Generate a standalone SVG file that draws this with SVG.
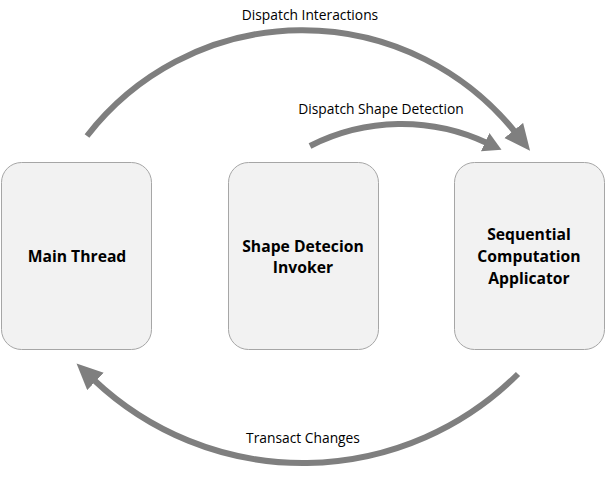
<svg xmlns="http://www.w3.org/2000/svg" width="606" height="496" viewBox="0 0 606 496">
<style>
.node rect{fill:#f2f2f2;stroke:#a6a6a6;stroke-width:1}
.node text{font-family:"Open Sans","Noto Sans",sans-serif;font-weight:bold;font-size:15.7px;fill:#000;text-anchor:middle}
.conn path{fill:none;stroke:#7f7f7f;stroke-width:6}
.lbl{font-family:"Open Sans","Noto Sans",sans-serif;font-size:13.8px;fill:#000;text-anchor:middle}
</style>
<defs>
<marker id="ahL" markerUnits="userSpaceOnUse" markerWidth="28" markerHeight="26" refX="2" refY="12" orient="auto"><path d="M0,0 L26,12 L0,24 Z" fill="#7f7f7f"/></marker>
<marker id="ahS" markerUnits="userSpaceOnUse" markerWidth="20" markerHeight="22" refX="2" refY="10" orient="auto"><path d="M0,0 L18,10 L0,20 Z" fill="#7f7f7f"/></marker>
</defs>
<g id="main-thread" class="node"><rect x="1.5" y="162.5" width="150" height="187" rx="20"/><text x="77" y="262">Main Thread</text></g>
<g id="shape-detection-invoker" class="node"><rect x="228.5" y="162.5" width="150" height="187" rx="20"/><text x="303" y="252">Shape Detecion</text><text x="303" y="273">Invoker</text></g>
<g id="sequential-computation-applicator" class="node"><rect x="454.5" y="162.5" width="150" height="187" rx="20"/><text x="529" y="240">Sequential</text><text x="529" y="262">Computation</text><text x="529" y="284">Applicator</text></g>
<g id="connectors" class="conn">
<path d="M87,136 A272.6,272.6 0 0 1 515,132" marker-end="url(#ahL)"/>
<path d="M310,146 A201.7,201.7 0 0 1 487,143" marker-end="url(#ahS)"/>
<path d="M518,374 A304.3,304.3 0 0 1 94,380" marker-end="url(#ahL)"/>
</g>
<g id="labels">
<text class="lbl" x="310" y="20">Dispatch Interactions</text>
<text class="lbl" x="381" y="114">Dispatch Shape Detection</text>
<text class="lbl" x="303" y="443">Transact Changes</text>
</g>
</svg>
